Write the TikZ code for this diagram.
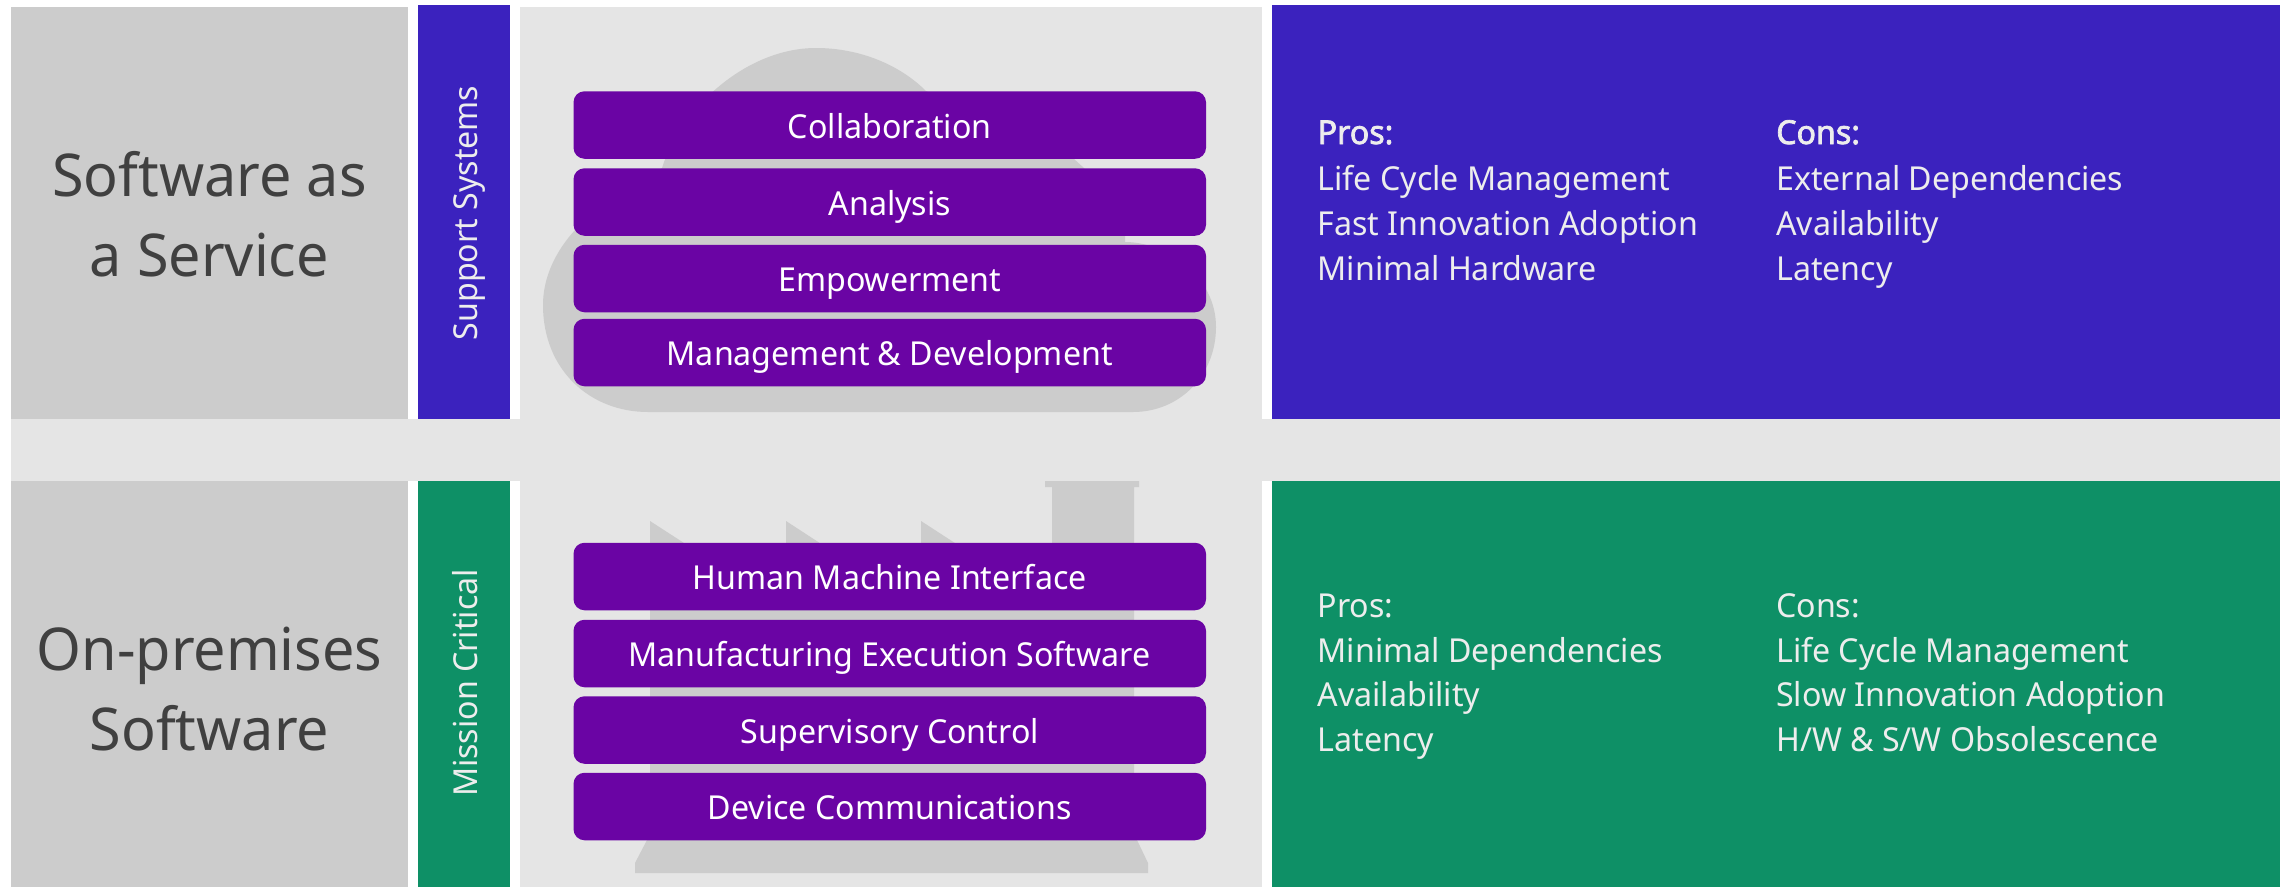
\documentclass[tikz,border=0pt]{standalone}
\usepackage{fontspec}
\setmainfont[FakeStretch=0.975]{Noto Sans}
\newfontfamily\headfont[FakeStretch=0.975,FakeBold=2.2]{Noto Sans}
\definecolor{cblue}{HTML}{3B22BE}
\definecolor{cgreen}{HTML}{0E9066}
\definecolor{cpurple}{HTML}{6A04A4}
\definecolor{cgray}{HTML}{CCCCCC}
\definecolor{clight}{HTML}{E5E5E5}
\definecolor{cink}{HTML}{404040}
\definecolor{cpale}{HTML}{EDEDED}
\tikzset{
  layerbox/.style={rectangle,fill=cpurple,rounded corners=11pt,inner sep=0pt,
    minimum width=632.5pt,minimum height=67.5pt,text=white,
    font=\fontsize{33}{40}\selectfont,text height=26pt,text depth=0pt},
  title/.style={anchor=base,inner sep=0pt,text=cink,font=\fontsize{59}{70}\selectfont},
  sidelabel/.style={anchor=base,inner sep=0pt,rotate=90,text=cpale,font=\fontsize{33}{40}\selectfont},
  listline/.style={anchor=base west,inner sep=0pt,text=cpale,font=\fontsize{33}{40}\selectfont},
  listhead/.style={listline,font=\headfont\fontsize{33}{40}\selectfont},
}
\begin{document}
\begin{tikzpicture}[x=1pt,y=-1pt]
\useasboundingbox (0,0) rectangle (2287,887);
% band and panels
\fill[clight] (11,419) rectangle (2280,481);
\fill[clight] (520,7) rectangle (1262,419);
\fill[clight] (520,481) rectangle (1262,887);
\fill[cgray] (11,7) rectangle (408,419);
\fill[cgray] (11,481) rectangle (408,887);
\fill[cblue] (418,5) rectangle (510,419);
\fill[cgreen] (418,481) rectangle (510,887);
\fill[cblue] (1272,5) rectangle (2280,419);
\fill[cgreen] (1272,481) rectangle (2280,887);
% cloud
\fill[cgray] (648,412) .. controls (590,412) and (543,370) .. (543,305)
  .. controls (543,278) and (555,252) .. (575,230) -- (662,168)
  .. controls (680,110) and (745,48) .. (816,48)
  .. controls (860,48) and (900,65) .. (926,91)
  -- (1074,159) -- (1084,168) -- (1125,230) -- (1125,242)
  .. controls (1165,242) and (1216,275) .. (1216,327)
  .. controls (1216,375) and (1180,412) .. (1133,412) -- cycle;
% factory
\fill[cgray] (650,521) -- (786,609) -- (786,521) -- (921,609) -- (921,521) -- (1052,606)
  -- (1052,487) -- (1045,487) -- (1045,481) -- (1139,481) -- (1139,487) -- (1134,487)
  -- (1134,840) -- (1137,840) -- (1148,863) -- (1148,873) -- (635,873) -- (635,863)
  -- (647,840) -- (650,840) -- cycle;
% layer boxes
\node[layerbox] (collab) at (889.75,125) {Collaboration};
\node[layerbox] (analysis) at (889.75,202) {Analysis};
\node[layerbox] (empower) at (889.75,278.5) {Empowerment};
\node[layerbox] (mgmt) at (889.75,352.5) {Management \& Development};
\node[layerbox] (hmi) at (889.75,576.5) {Human Machine Interface};
\node[layerbox] (mes) at (889.75,653.5) {Manufacturing Execution Software};
\node[layerbox] (sup) at (889.75,730) {Supervisory Control};
\node[layerbox] (dev) at (889.75,806.5) {Device Communications};
% titles
\node[title] (t1a) at (209.5,196) {Software as};
\node[title] (t1b) at (209.5,276) {a Service};
\node[title] (t2a) at (209.5,670) {On-premises};
\node[title] (t2b) at (209.5,750) {Software};
% side labels
\node[sidelabel] (side1) at (477,213) {Support Systems};
\node[sidelabel] (side2) at (477,683) {Mission Critical};
% SaaS lists
\node[listhead] (p1h) at (1317.5,144) {Pros:};
\node[listline] (p1a) at (1317.5,190) {Life Cycle Management};
\node[listline] (p1b) at (1317.5,235) {Fast Innovation Adoption};
\node[listline] (p1c) at (1317.5,280) {Minimal Hardware};
\node[listhead] (c1h) at (1776,144) {Cons:};
\node[listline] (c1a) at (1776,190) {External Dependencies};
\node[listline] (c1b) at (1776,235) {Availability};
\node[listline] (c1c) at (1776,280) {Latency};
% On-premises lists
\node[listline] (p2h) at (1317.5,617) {Pros:};
\node[listline] (p2a) at (1317.5,662) {Minimal Dependencies};
\node[listline] (p2b) at (1317.5,706) {Availability};
\node[listline] (p2c) at (1317.5,751) {Latency};
\node[listline] (c2h) at (1776,617) {Cons:};
\node[listline] (c2a) at (1776,662) {Life Cycle Management};
\node[listline] (c2b) at (1776,706) {Slow Innovation Adoption};
\node[listline] (c2c) at (1776,751) {H/W \& S/W Obsolescence};
\end{tikzpicture}
\end{document}
